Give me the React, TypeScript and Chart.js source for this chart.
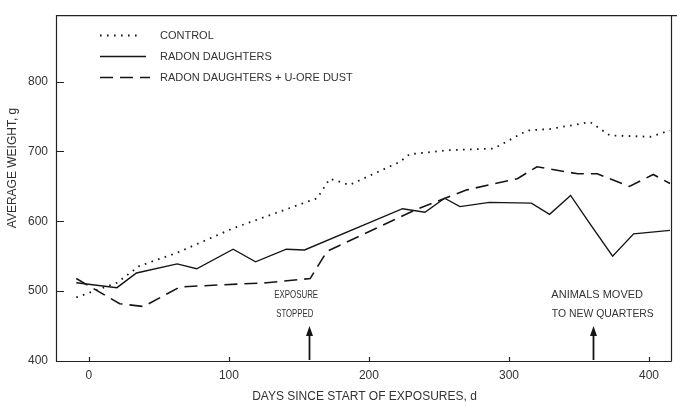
import React, { useEffect, useRef } from "react";
import { Chart, registerables } from "chart.js";

Chart.register(...registerables);

// ---- data ----
const controlDays = [-9, 20, 36, 63, 103, 163, 172, 186, 210, 222, 229, 258, 289, 313, 329, 358, 372, 401, 415];
const controlWeights = [491, 512, 536, 555, 590, 633, 661, 652, 674, 685, 696, 702, 704, 730, 732, 742, 723, 721, 730];

const radonDays = [-9, 20, 34, 63, 77, 103, 119, 141, 154, 224, 240, 254, 265, 286, 316, 329, 344, 358, 374, 389, 415];
const radonWeights = [512, 505, 526, 539, 532, 560, 542, 560, 559, 618, 613, 633, 621, 627, 626, 610, 637, 596, 550, 582, 587];

const oreDays = [-9, 22, 39, 65, 94, 127, 158, 170, 234, 270, 306, 320, 349, 363, 386, 403, 415];
const oreWeights = [518, 482, 478, 506, 509, 512, 518, 557, 617, 645, 661, 678, 668, 668, 650, 667, 654];

const xTicks = [0, 100, 200, 300, 400];
const yTicks = [400, 500, 600, 700, 800];

const seriesLabels = ["CONTROL", "RADON DAUGHTERS", "RADON DAUGHTERS + U-ORE DUST"];
const xTitle = "DAYS SINCE START OF EXPOSURES, d";
const yTitle = "AVERAGE WEIGHT, g";

const exposureStopDay = 157;
const animalsMovedDay = 360;
const exposureText = ["EXPOSURE", "STOPPED"];
const animalsText = ["ANIMALS MOVED", "TO NEW QUARTERS"];

const FONT = '"Liberation Sans", Arial, sans-serif';
const INK = "#151515";
const TEXT = "#333";

const dotted = [1.6, 5.4];
const dashed = [13, 7];

const toPoints = (xs: number[], ys: number[]) => xs.map((v, i) => ({ x: v, y: ys[i] }));

const decor = {
  id: "decor",
  afterDraw(chart: any) {
    const { ctx, chartArea: a, scales } = chart;
    const x = scales.x;
    const y = scales.y;
    ctx.save();
    // frame
    ctx.strokeStyle = "#222";
    ctx.lineWidth = 1.2;
    ctx.setLineDash([]);
    ctx.beginPath();
    ctx.moveTo(a.left + 0.5, a.bottom + 0.5);
    ctx.lineTo(a.left + 0.5, a.top + 0.5);
    ctx.lineTo(chart.width, a.top + 0.5);
    ctx.moveTo(a.left + 0.5, a.bottom + 0.5);
    ctx.lineTo(a.right + 0.5, a.bottom + 0.5);
    ctx.moveTo(a.right + 0.5, a.top + 0.5);
    ctx.lineTo(a.right + 0.5, a.bottom + 0.5);
    ctx.stroke();
    // inward ticks
    ctx.beginPath();
    yTicks.forEach((v) => {
      const py = Math.round(y.getPixelForValue(v)) + 0.5;
      ctx.moveTo(a.left, py);
      ctx.lineTo(a.left + 8, py);
    });
    xTicks.forEach((v) => {
      const px = Math.round(x.getPixelForValue(v)) + 0.5;
      ctx.moveTo(px, a.bottom);
      ctx.lineTo(px, a.bottom - 4);
    });
    ctx.stroke();

    // legend
    const rows = [35, 56, 77];
    const dashes = [dotted, [], dashed];
    const widths = [1.8, 1.4, 1.6];
    const ends = [142, 146, 150];
    ctx.font = `11px ${FONT}`;
    ctx.textBaseline = "middle";
    ctx.textAlign = "left";
    rows.forEach((ry, i) => {
      ctx.strokeStyle = INK;
      ctx.lineWidth = widths[i];
      ctx.setLineDash(dashes[i]);
      ctx.beginPath();
      ctx.moveTo(100, ry + 0.5);
      ctx.lineTo(ends[i], ry + 0.5);
      ctx.stroke();
      ctx.fillStyle = TEXT;
      ctx.fillText(seriesLabels[i], 160, ry + 1);
    });
    ctx.setLineDash([]);

    // annotations with arrows
    const arrow = (day: number) => {
      const px = Math.round(x.getPixelForValue(day)) + 0.5;
      const tip = y.getPixelForValue(450);
      ctx.strokeStyle = INK;
      ctx.fillStyle = INK;
      ctx.lineWidth = 1.8;
      ctx.beginPath();
      ctx.moveTo(px, a.bottom - 1);
      ctx.lineTo(px, tip + 8);
      ctx.stroke();
      ctx.beginPath();
      ctx.moveTo(px, tip);
      ctx.lineTo(px - 3.5, tip + 10);
      ctx.lineTo(px + 3.5, tip + 10);
      ctx.closePath();
      ctx.fill();
    };
    arrow(exposureStopDay);
    arrow(animalsMovedDay);

    ctx.fillStyle = TEXT;
    ctx.textAlign = "center";
    ctx.font = `11px ${FONT}`;
    const l1 = y.getPixelForValue(494);
    const l2 = y.getPixelForValue(468);
    ctx.fillText(exposureText[0], x.getPixelForValue(148), l1, 44);
    ctx.fillText(exposureText[1], x.getPixelForValue(147), l2, 37);
    ctx.fillText(animalsText[0], x.getPixelForValue(363), l1, 93);
    ctx.fillText(animalsText[1], x.getPixelForValue(367), l2, 102);

    // axis titles
    ctx.font = `12px ${FONT}`;
    ctx.fillText(xTitle, (a.left + a.right) / 2 + 1, 397);
    ctx.translate(13, 168);
    ctx.rotate(-Math.PI / 2);
    ctx.fillText(yTitle, 0, 0);
    ctx.restore();
  },
};

export default function App() {
  const ref = useRef<HTMLCanvasElement | null>(null);
  useEffect(() => {
    document.body.style.margin = "0";
    const canvas = ref.current;
    if (!canvas) return;
    const chart = new Chart(canvas, {
      type: "line",
      data: {
        datasets: [
          {
            label: seriesLabels[0],
            data: toPoints(controlDays, controlWeights),
            borderColor: INK,
            borderWidth: 1.8,
            borderDash: dotted,
            pointRadius: 0,
            fill: false,
            tension: 0,
          },
          {
            label: seriesLabels[1],
            data: toPoints(radonDays, radonWeights),
            borderColor: INK,
            borderWidth: 1.4,
            pointRadius: 0,
            fill: false,
            tension: 0,
          },
          {
            label: seriesLabels[2],
            data: toPoints(oreDays, oreWeights),
            borderColor: INK,
            borderWidth: 1.6,
            borderDash: dashed,
            pointRadius: 0,
            fill: false,
            tension: 0,
          },
        ],
      },
      options: {
        responsive: false,
        animation: false,
        devicePixelRatio: 1,
        layout: { padding: { top: 12, right: 6, left: 0, bottom: 0 } },
        plugins: { legend: { display: false }, tooltip: { enabled: false } },
        scales: {
          x: {
            type: "linear",
            min: -23.5,
            max: 415.7,
            grid: { display: false, drawTicks: false },
            border: { display: false },
            afterBuildTicks: (s: any) => {
              s.ticks = xTicks.map((v) => ({ value: v }));
            },
            afterFit: (s: any) => {
              s.height = 45;
            },
            ticks: {
              padding: 7,
              maxRotation: 0,
              autoSkip: false,
              color: TEXT,
              font: { family: FONT, size: 12 },
              callback: (v: any) => String(v),
            },
          },
          y: {
            type: "linear",
            min: 400,
            max: 895,
            grid: { display: false, drawTicks: false },
            border: { display: false },
            afterBuildTicks: (s: any) => {
              s.ticks = yTicks.map((v) => ({ value: v }));
            },
            afterFit: (s: any) => {
              s.width = 56;
            },
            ticks: {
              padding: 8,
              autoSkip: false,
              color: TEXT,
              font: { family: FONT, size: 12 },
              callback: (v: any) => String(v),
            },
          },
        },
      },
      plugins: [decor],
    } as any);
    return () => chart.destroy();
  }, []);
  return (
    <div style={{ position: "fixed", left: 0, top: 0, width: 677, height: 406, background: "#fff" }}>
      <canvas ref={ref} width={677} height={406} style={{ display: "block", width: 677, height: 406 }} />
    </div>
  );
}
